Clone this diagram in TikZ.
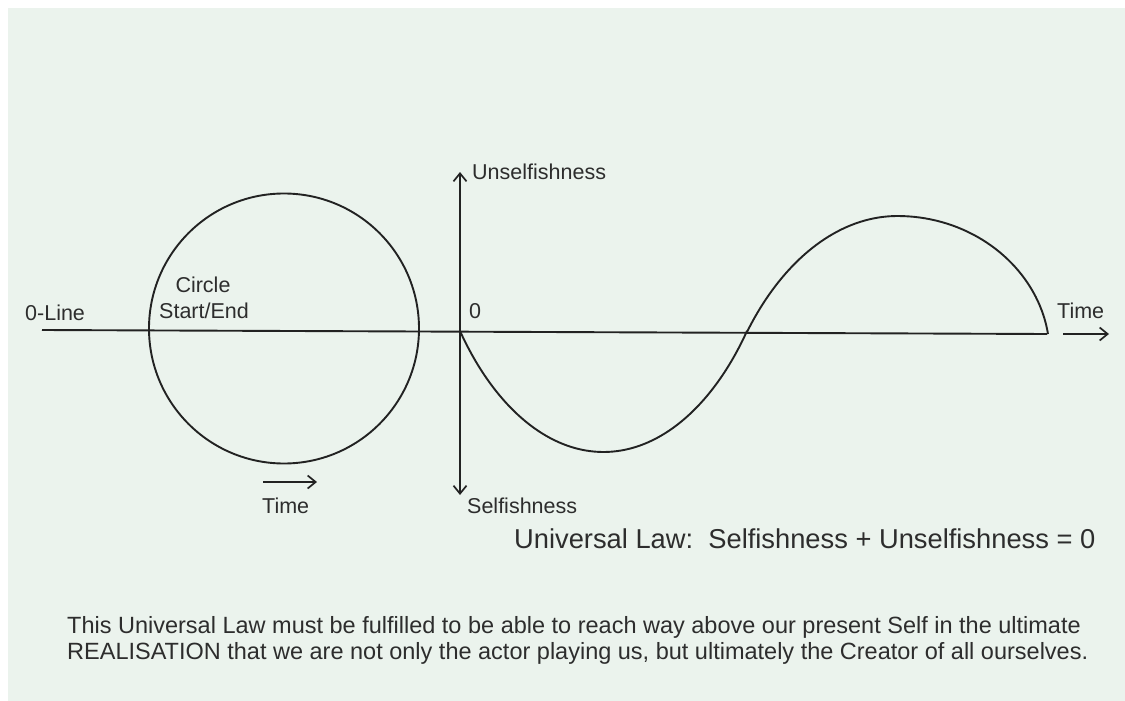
\documentclass[tikz,border=0pt]{standalone}
\usepackage{fontspec}
\setmainfont{Liberation Sans}
\usetikzlibrary{arrows.meta}
\definecolor{panel}{RGB}{235,243,237}
\definecolor{ink}{RGB}{34,34,34}
\definecolor{txt}{RGB}{45,45,45}
\begin{document}
\begin{tikzpicture}[x=1pt,y=-1pt,
  stroke/.style={draw=ink, line width=1.9pt},
  barb/.style={stroke, -{Straight Barb[length=8pt,width=13pt,line width=1.7pt]}},
  dbarb/.style={stroke, {Straight Barb[length=8pt,width=13pt,line width=1.7pt]}-{Straight Barb[length=8pt,width=13pt,line width=1.7pt]}},
  lbl/.style={text=txt, inner sep=0pt, anchor=base west, font=\fontsize{21.5}{25}\selectfont},
  law/.style={text=txt, inner sep=0pt, anchor=base west, font=\fontsize{27.3}{30}\selectfont},
  note/.style={text=txt, inner sep=0pt, anchor=base west, align=left, font=\fontsize{23.5}{25}\selectfont}]
\fill[white] (0,0) rectangle (1125,701);
\fill[panel] (8,8) rectangle (1125,701);
\useasboundingbox (0,0) rectangle (1125,701);

% zero line
\coordinate (zl0) at (42,330);
\coordinate (zl1) at (1047,334);
\draw[stroke] (zl0) -- (zl1);

% circle
\node[circle, draw=ink, line width=1.9pt, minimum size=270pt, inner sep=0pt] (circ) at (284,328.5) {};

% vertical axis
\coordinate (ytop) at (460,172);
\coordinate (ybot) at (460,495);
\draw[dbarb] (ybot) -- (ytop);

% wave
\draw[stroke, line join=round]
  plot[domain=0:90, samples=40] ({460+143.5*(0.4*(1-cos(\x))+0.6*\x/90)},{331+121*sin(\x)})
  -- plot[domain=90:0, samples=40] ({747-143.5*(0.4*(1-cos(\x))+0.6*\x/90)},{331+121*sin(\x)})
  -- plot[domain=0:90, samples=40] ({747+150.5*(0.4*(1-cos(\x))+0.6*\x/90)},{332-116*sin(\x)})
  -- plot[domain=90:0, samples=40] ({1048-150.5*(0.8*(1-cos(\x))+0.2*\x/90)},{334-118*sin(\x)});

% time arrows
\coordinate (tr0) at (1063,334);
\coordinate (tr1) at (1109,334);
\draw[barb] (tr0) -- (tr1);
\coordinate (tb0) at (263,482);
\coordinate (tb1) at (317,482);
\draw[barb] (tb0) -- (tb1);

% labels
\node[lbl] (unself) at (472,179) {Unselfishness};
\node[lbl] (zero) at (469,318) {0};
\node[lbl] (self) at (467,513) {Selfishness};
\node[lbl, anchor=base] (circlbl) at (203,292) {Circle};
\node[lbl] (startend) at (159,318) {Start/End};
\node[lbl] (zline) at (25,320) {0-Line};
\node[lbl] (timer) at (1057,318) {Time};
\node[lbl] (timeb) at (262,513) {Time};
\node[law] (lawtxt) at (514,548) {Universal Law:\ \ Selfishness + Unselfishness = 0};
\node[note] (note1) at (67,633) {This Universal Law must be fulfilled to be able to reach way above our present Self in the ultimate};
\node[note] (note2) at (67,659) {REALISATION that we are not only the actor playing us, but ultimately the Creator of all ourselves.};
\end{tikzpicture}
\end{document}
